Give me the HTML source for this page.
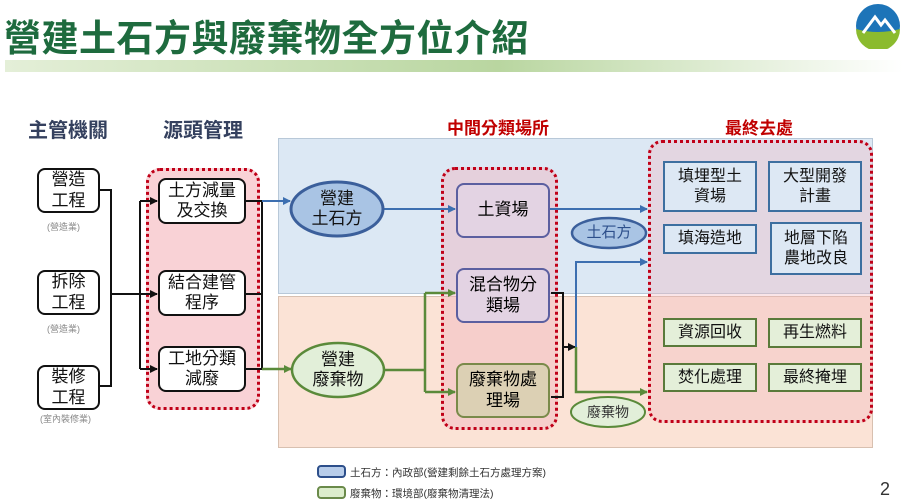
<!DOCTYPE html>
<html><head><meta charset="utf-8"><style>
*{margin:0;padding:0;box-sizing:border-box}
body{width:903px;height:503px;position:relative;background:#fff;font-family:"Liberation Sans","Noto Sans CJK TC",sans-serif;overflow:hidden}
.a{position:absolute}
.t{position:absolute;display:flex;align-items:center;justify-content:center;text-align:center;line-height:1.2}
.bx{border:2.5px solid #111;border-radius:8px;background:#fff;font-size:17px;color:#111}
.bl{background:#dde8f4;border:2px solid #3d6fa0;font-size:16px;color:#111}
.gr{background:#e4efd9;border:2px solid #5a7a3a;font-size:16px;color:#111}
.dot{border:3px dotted #c00018;border-radius:14px}
</style></head><body>
<div class="a" style="left:4px;top:8px;font-size:37px;font-weight:bold;color:#1e6b3e;letter-spacing:0.5px;white-space:nowrap">營建土石方與廢棄物全方位介紹</div>
<div class="a" style="left:5px;top:60px;width:898px;height:12px;background:linear-gradient(90deg,#e4efd8,#b9d6a0 55%,#ffffff)"></div>
<svg class="a" style="left:855px;top:3px" width="46" height="46"><circle cx="23" cy="23" r="22" fill="#1d74b8"/><path d="M1 26 Q23 32 45 26 A22 22 0 0 1 1 26Z" fill="#8bbb2e"/><path d="M8 30 L20 14 L26 22 L30 17 L40 30" fill="none" stroke="#fff" stroke-width="3"/></svg>
<div class="a" style="left:28px;top:114px;font-size:20px;font-weight:bold;color:#34405e">主管機關</div>
<div class="a" style="left:163px;top:114px;font-size:20px;font-weight:bold;color:#34405e">源頭管理</div>
<div class="a" style="left:447px;top:114px;font-size:17px;font-weight:bold;color:#c00000">中間分類場所</div>
<div class="a" style="left:725px;top:114px;font-size:17px;font-weight:bold;color:#c00000">最終去處</div>
<div class="a" style="left:278px;top:138px;width:595px;height:156px;background:#dce8f4;border:1px solid #b8c8d8"></div>
<div class="a" style="left:278px;top:296px;width:595px;height:152px;background:#fbe3d6;border:1px solid #d8c0b0"></div>
<div class="a dot" style="left:146px;top:168px;width:114px;height:242px;background:#f9d2d6"></div>
<div class="a dot" style="left:441px;top:167px;width:117px;height:263px;background:rgba(240,180,190,0.45)"></div>
<div class="a dot" style="left:648px;top:140px;width:225px;height:283px;background:rgba(240,180,190,0.35)"></div>
<svg class="a" style="left:0;top:0" width="903" height="503">
<defs>
<marker id="k" markerUnits="userSpaceOnUse" markerWidth="8" markerHeight="8" refX="7" refY="4" orient="auto"><path d="M0 0L8 4L0 8Z" fill="#111"/></marker>
<marker id="b" markerUnits="userSpaceOnUse" markerWidth="8" markerHeight="8" refX="7" refY="4" orient="auto"><path d="M0 0L8 4L0 8Z" fill="#3d6fb0"/></marker>
<marker id="g" markerUnits="userSpaceOnUse" markerWidth="8" markerHeight="8" refX="7" refY="4" orient="auto"><path d="M0 0L8 4L0 8Z" fill="#5a8a3a"/></marker>
</defs>
<g stroke="#111" stroke-width="2" fill="none">
<path d="M100 190H111V386H100"/><path d="M111 294H140"/>
<path d="M140 201V369"/>
<path d="M140 201H157" marker-end="url(#k)"/><path d="M140 294H157" marker-end="url(#k)"/><path d="M140 369H157" marker-end="url(#k)"/>
<path d="M246 201H262V369H246"/><path d="M246 294H262"/>
<path d="M551 293H563V397H551"/><path d="M563 347H575" marker-end="url(#k)"/>
</g>
<g stroke="#3d6fb0" stroke-width="2" fill="none">
<path d="M262 201H290" marker-end="url(#b)"/>
<path d="M383 209H455" marker-end="url(#b)"/>
<path d="M550 209H647" marker-end="url(#b)"/>
<path d="M576 347V262H647" marker-end="url(#b)"/>
</g>
<g stroke="#5a8a3a" stroke-width="2.5" fill="none">
<path d="M262 369H291" marker-end="url(#g)"/>
<path d="M384 370H425"/><path d="M425 293V392"/>
<path d="M425 293H455" marker-end="url(#g)"/><path d="M425 392H455" marker-end="url(#g)"/>
<path d="M576 347V392H647" marker-end="url(#g)"/>
</g>
<ellipse cx="337" cy="209" rx="46" ry="27" fill="#a9c4e4" stroke="#3b5f9b" stroke-width="3"/>
<ellipse cx="338" cy="370" rx="46" ry="27" fill="#e2efd9" stroke="#5a8a3a" stroke-width="2.5"/>
<ellipse cx="609" cy="233" rx="37" ry="15" fill="#a9c4e4" stroke="#3b5f9b" stroke-width="2.5"/>
<ellipse cx="608" cy="412" rx="37" ry="15" fill="#e2efd9" stroke="#5a8a3a" stroke-width="2"/>
<rect x="318" y="466" width="27" height="11" rx="3" fill="#b8cdea" stroke="#2d4f8b" stroke-width="2"/>
<rect x="318" y="487" width="27" height="11" rx="3" fill="#dcedcc" stroke="#6a8a4a" stroke-width="2"/>
</svg>
<div class="t bx" style="left:37px;top:168px;width:63px;height:45px">營造<br>工程</div>
<div class="t bx" style="left:37px;top:270px;width:63px;height:45px">拆除<br>工程</div>
<div class="t bx" style="left:37px;top:365px;width:63px;height:45px">裝修<br>工程</div>
<div class="a" style="left:47px;top:220px;font-size:9px;color:#888">(營造業)</div>
<div class="a" style="left:47px;top:322px;font-size:9px;color:#888">(營造業)</div>
<div class="a" style="left:40px;top:412px;font-size:9px;color:#888">(室內裝修業)</div>
<div class="t bx" style="left:158px;top:178px;width:88px;height:46px">土方減量<br>及交換</div>
<div class="t bx" style="left:158px;top:270px;width:88px;height:46px">結合建管<br>程序</div>
<div class="t bx" style="left:158px;top:346px;width:88px;height:46px">工地分類<br>減廢</div>
<div class="t" style="left:291px;top:182px;width:92px;height:54px;font-size:17px;color:#111">營建<br>土石方</div>
<div class="t" style="left:292px;top:343px;width:92px;height:54px;font-size:17px;color:#111">營建<br>廢棄物</div>
<div class="t" style="left:572px;top:218px;width:74px;height:30px;font-size:15px;color:#2d4f8b">土石方</div>
<div class="t" style="left:571px;top:397px;width:74px;height:30px;font-size:14px;color:#333">廢棄物</div>
<div class="t" style="left:456px;top:183px;width:94px;height:55px;background:#e3d3e3;border:2.5px solid #5b5fa0;border-radius:8px;font-size:17px">土資場</div>
<div class="t" style="left:456px;top:268px;width:94px;height:55px;background:#e3d3e3;border:2.5px solid #5b5fa0;border-radius:8px;font-size:17px">混合物分<br>類場</div>
<div class="t" style="left:456px;top:363px;width:94px;height:55px;background:#dcd0b4;border:2.5px solid #7a8a4a;border-radius:8px;font-size:17px">廢棄物處<br>理場</div>
<div class="t bl" style="left:663px;top:161px;width:94px;height:51px">填埋型土<br>資場</div>
<div class="t bl" style="left:768px;top:161px;width:94px;height:51px">大型開發<br>計畫</div>
<div class="t bl" style="left:663px;top:224px;width:94px;height:30px">填海造地</div>
<div class="t bl" style="left:770px;top:222px;width:92px;height:53px">地層下陷<br>農地改良</div>
<div class="t gr" style="left:663px;top:318px;width:94px;height:29px">資源回收</div>
<div class="t gr" style="left:768px;top:318px;width:94px;height:30px">再生燃料</div>
<div class="t gr" style="left:663px;top:363px;width:94px;height:29px">焚化處理</div>
<div class="t gr" style="left:768px;top:363px;width:94px;height:29px">最終掩埋</div>
<div class="a" style="left:350px;top:465px;font-size:10.5px;color:#333;white-space:nowrap">土石方：內政部(營建剩餘土石方處理方案)</div>
<div class="a" style="left:350px;top:486px;font-size:10.5px;color:#333;white-space:nowrap">廢棄物：環境部(廢棄物清理法)</div>
<div class="a" style="left:880px;top:479px;font-size:18px;color:#333">2</div>
</body></html>
